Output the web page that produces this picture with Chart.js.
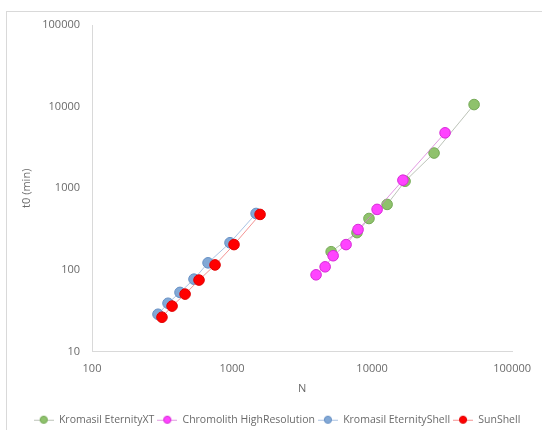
<!DOCTYPE html>
<html>
<head>
<meta charset="utf-8">
<script src="https://cdn.jsdelivr.net/npm/chart.js@4/dist/chart.umd.min.js"></script>
<style>
html,body{margin:0;padding:0;background:#fff;}
#wrap{position:relative;width:542px;height:430px;}
</style>
</head>
<body>
<div id="wrap"><canvas id="c" width="542" height="430"></canvas></div>
<script>
// Data
const seriesNames = ["Kromasil EternityXT", "Chromolith HighResolution", "Kromasil EternityShell", "SunShell"];
const xtN = [5100, 7800, 9500, 12800, 17200, 27700, 53500];
const xtT = [167, 286, 426, 634, 1220, 2700, 10600];
const chN = [3980, 4620, 5270, 6520, 7940, 10860, 16600, 33200];
const chT = [87, 109, 149, 204, 312, 551, 1256, 4775];
const esN = [296, 349, 425, 535, 674, 967, 1485];
const esT = [28.6, 39, 53, 77, 122, 215, 491];
const ssN = [316, 373, 462, 581, 756, 1033, 1585];
const ssT = [26.3, 36, 50.5, 75, 115, 204, 478];
const xTicks = [100, 1000, 10000, 100000];
const yTicks = [10, 100, 1000, 10000, 100000];

const pts = (xs, ys) => xs.map((x, i) => ({x: x, y: ys[i]}));

const styles = [
  {fill: '#8fc26c', border: '#74a955', line: 'rgba(165,175,160,0.75)', order: 4},
  {fill: '#ff44ff', border: '#d62ad6', line: 'rgba(215,120,215,0.75)', order: 3},
  {fill: '#82a8d6', border: '#6690c4', line: 'rgba(150,180,220,0.8)', order: 2},
  {fill: '#ff0000', border: '#e00000', line: 'rgba(240,120,120,0.8)', order: 1}
];
const dataSets = [pts(xtN, xtT), pts(chN, chT), pts(esN, esT), pts(ssN, ssT)];

function legendIcon(s) {
  const c = document.createElement('canvas');
  c.width = 20; c.height = 10;
  const g = c.getContext('2d');
  g.strokeStyle = s.line; g.lineWidth = 1;
  g.beginPath(); g.moveTo(0, 5.5); g.lineTo(20, 5.5); g.stroke();
  g.fillStyle = s.fill; g.strokeStyle = s.border;
  g.beginPath(); g.arc(10, 5, 3.6, 0, Math.PI * 2); g.fill(); g.stroke();
  return c;
}
const icons = styles.map(legendIcon);

const borderPlugin = {
  id: 'outerBorder',
  beforeDraw(chart) {
    const ctx = chart.ctx;
    ctx.save();
    ctx.strokeStyle = '#d9d9d9';
    ctx.lineWidth = 1;
    ctx.strokeRect(6.5, 11.5, 600, 500);
    ctx.restore();
  },
  afterLayout(chart) {
    if (chart.legend) {
      chart.legend.left += 13;
      chart.legend.right += 13;
    }
  }
};

const font = "'Open Sans', 'Liberation Sans', sans-serif";
const textColor = '#6a6a6a';

new Chart(document.getElementById('c'), {
  type: 'line',
  data: {
    datasets: dataSets.map((d, i) => ({
      label: seriesNames[i],
      data: d,
      borderColor: styles[i].line,
      borderWidth: 1,
      backgroundColor: styles[i].fill,
      pointBackgroundColor: styles[i].fill,
      pointBorderColor: styles[i].border,
      pointBorderWidth: 1,
      pointRadius: 5.3,
      fill: false,
      tension: 0,
      order: styles[i].order
    }))
  },
  options: {
    responsive: false,
    animation: false,
    layout: {padding: {left: 14, top: 25, right: 28, bottom: -5}},
    plugins: {
      tooltip: {enabled: false},
      legend: {
        position: 'bottom',
        labels: {
          usePointStyle: true,
          pointStyleWidth: 20,
          padding: 3,
          color: textColor,
          font: {family: font, size: 10.5},
          generateLabels(chart) {
            return chart.data.datasets.map((ds, i) => ({
              text: ds.label,
              pointStyle: icons[i],
              fillStyle: styles[i].fill,
              strokeStyle: styles[i].border,
              lineWidth: 0,
              hidden: false,
              datasetIndex: i,
              fontColor: textColor
            }));
          }
        }
      }
    },
    scales: {
      x: {
        type: 'logarithmic',
        min: 100, max: 100000,
        afterBuildTicks(axis) { axis.ticks = xTicks.map(v => ({value: v})); },
        afterFit(axis) { axis.height = 60; },
        grid: {display: false, drawTicks: false},
        border: {display: true, color: '#d9d9d9'},
        ticks: {
          padding: 11,
          color: textColor,
          font: {family: font, size: 11},
          maxRotation: 0,
          autoSkip: false,
          callback: v => String(v)
        },
        title: {display: true, text: 'N', color: textColor, font: {family: font, size: 11}, padding: {top: 0, bottom: 16}}
      },
      y: {
        type: 'logarithmic',
        min: 10, max: 100000,
        afterBuildTicks(axis) { axis.ticks = yTicks.map(v => ({value: v})); },
        afterFit(axis) { axis.width = 78; },
        grid: {display: false, drawTicks: false},
        border: {display: true, color: '#d9d9d9'},
        ticks: {
          padding: 12,
          color: textColor,
          font: {family: font, size: 11},
          autoSkip: false,
          callback: v => String(v)
        },
        title: {display: true, text: 't0 (min)', color: textColor, font: {family: font, size: 11}, padding: {top: 6, bottom: 0}}
      }
    }
  },
  plugins: [borderPlugin]
});
</script>
</body>
</html>
